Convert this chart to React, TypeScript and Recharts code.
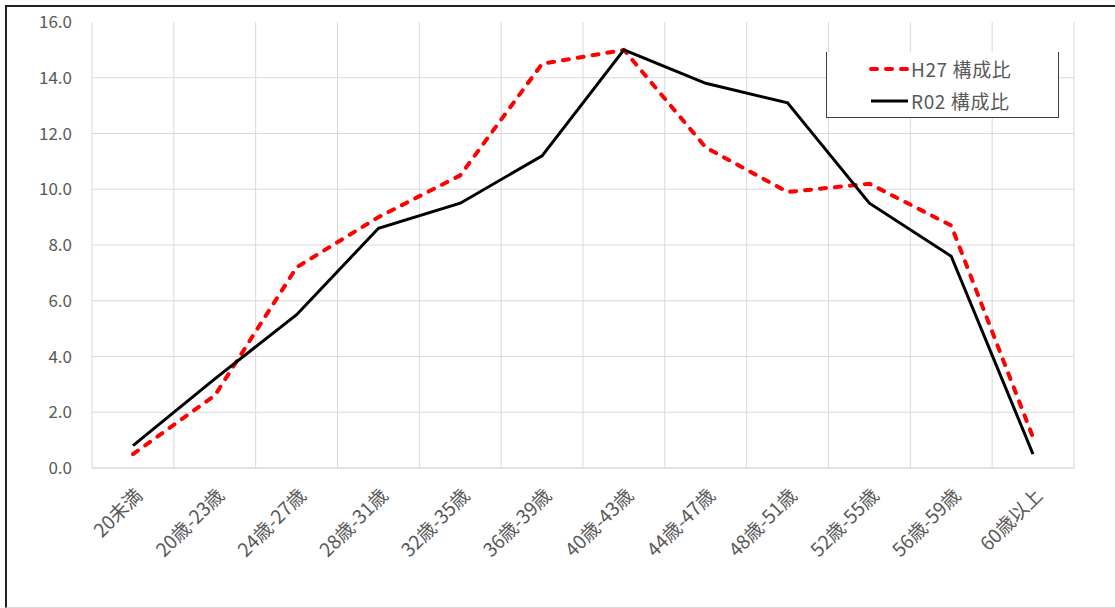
import React from "react";
import {
  LineChart,
  Line,
  XAxis,
  YAxis,
  CartesianGrid,
} from "recharts";

const categories = [
  "20未満",
  "20歳-23歳",
  "24歳-27歳",
  "28歳-31歳",
  "32歳-35歳",
  "36歳-39歳",
  "40歳-43歳",
  "44歳-47歳",
  "48歳-51歳",
  "52歳-55歳",
  "56歳-59歳",
  "60歳以上",
];

const h27 = [0.5, 2.6, 7.2, 9.0, 10.5, 14.5, 15.0, 11.5, 9.9, 10.2, 8.7, 1.1];
const r02 = [0.8, 3.2, 5.5, 8.6, 9.5, 11.2, 15.0, 13.8, 13.1, 9.5, 7.6, 0.5];

const seriesNames = ["H27 構成比", "R02 構成比"];

const yMax = 16;
const yTicks = [0, 2, 4, 6, 8, 10, 12, 14, 16];
const gridTicks = [0, 2, 4, 6, 8, 10, 12, 14];

const data = categories.map((c, i) => ({ name: c, h27: h27[i], r02: r02[i] }));

const FONT = '"Noto Sans CJK JP", "Noto Sans", sans-serif';
const GRID = "#d9d9d9";
const TEXT = "#595959";

function AngledTick({ x, y, payload }: any) {
  return (
    <g transform={`translate(${x + 6},${y + 22})`}>
      <text
        x={0}
        y={0}
        dy="0.35em"
        textAnchor="end"
        transform="rotate(-45)"
        fill={TEXT}
        fontSize={19}
        fontFamily={FONT}
      >
        {payload.value}
      </text>
    </g>
  );
}

function LegendBox() {
  const items = [
    { name: seriesNames[0], color: "#ff0000", dashed: true },
    { name: seriesNames[1], color: "#000000", dashed: false },
  ];
  return (
    <div
      style={{
        position: "absolute",
        left: 826,
        top: 52,
        width: 233,
        height: 66,
        borderLeft: "1px solid #404040",
        borderRight: "1px solid #404040",
        borderBottom: "1px solid #404040",
        background: "#fff",
        boxSizing: "border-box",
        paddingTop: 1,
      }}
    >
      {items.map((p) => (
        <div
          key={p.name}
          style={{ display: "flex", alignItems: "center", height: 32, paddingLeft: 41 }}
        >
          <svg width={43} height={10} style={{ display: "block" }}>
            <line
              x1={3}
              y1={5}
              x2={40}
              y2={5}
              stroke={p.color}
              strokeWidth={p.dashed ? 4 : 3}
              strokeDasharray={p.dashed ? "6 9" : undefined}
              strokeLinecap={p.dashed ? "round" : "butt"}
            />
          </svg>
          <span
            style={{ fontFamily: FONT, fontSize: 19, letterSpacing: 0.6, color: TEXT, lineHeight: "32px" }}
          >
            {p.name}
          </span>
        </div>
      ))}
    </div>
  );
}

export default function App() {
  return (
    <div style={{ position: "absolute", left: 0, top: 0, width: 1115, height: 608, background: "#fff", overflow: "hidden" }}>
      <div
        style={{
          position: "absolute",
          left: 5,
          top: 5,
          width: 1200,
          height: 600,
          borderLeft: "2px solid #222",
          borderTop: "2px solid #222",
          borderBottom: "1px solid #d9d9d9",
        }}
      />
      <div style={{ position: "absolute", left: 0, top: 0 }}>
        <LineChart
          width={1115}
          height={608}
          data={data}
          margin={{ top: 22, right: 41, bottom: 40, left: 0 }}
        >
          <CartesianGrid
            stroke={GRID}
            vertical
            horizontalCoordinatesGenerator={({ offset }: any) =>
              gridTicks.map((v) => offset.top + offset.height * (1 - v / yMax))
            }
            verticalCoordinatesGenerator={({ offset }: any) =>
              categories
                .concat([""])
                .map((_, i) => offset.left + (i * offset.width) / categories.length)
            }
          />
          <XAxis
            dataKey="name"
            interval={0}
            padding={{ left: 41, right: 41 }}
            height={100}
            tickLine={false}
            tickSize={0}
            axisLine={{ stroke: GRID }}
            tick={<AngledTick />}
          />
          <YAxis
            domain={[0, yMax]}
            ticks={yTicks}
            width={92}
            axisLine={false}
            tickLine={false}
            tickMargin={14}
            tickFormatter={(v) => Number(v).toFixed(1)}
            tick={{ fill: TEXT, fontSize: 17, fontFamily: FONT }}
          />
          <Line
            type="linear"
            dataKey="h27"
            name={seriesNames[0]}
            stroke="#ff0000"
            strokeWidth={4}
            strokeDasharray="6 9"
            strokeLinecap="round"
            dot={false}
            activeDot={false}
            isAnimationActive={false}
          />
          <Line
            type="linear"
            dataKey="r02"
            name={seriesNames[1]}
            stroke="#000000"
            strokeWidth={3}
            dot={false}
            activeDot={false}
            isAnimationActive={false}
          />
        </LineChart>
      </div>
      <LegendBox />
    </div>
  );
}
